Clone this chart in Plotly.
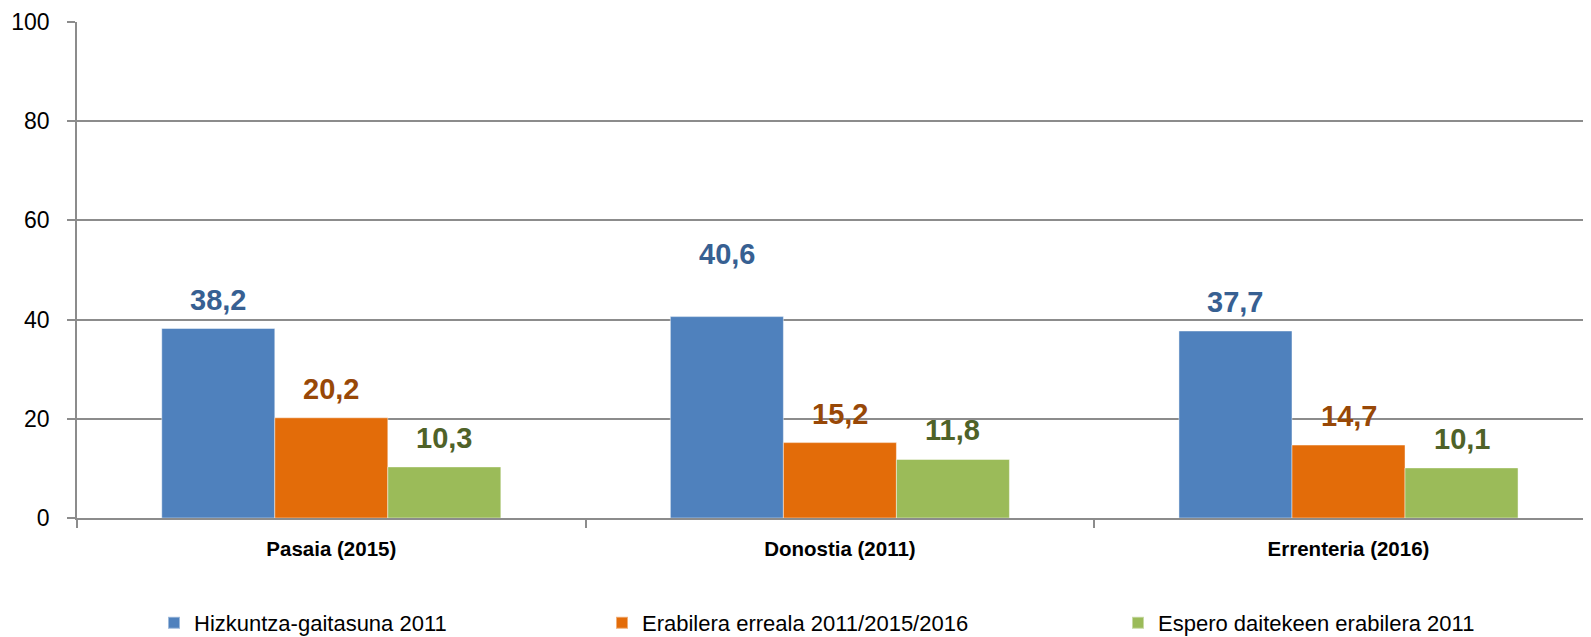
import plotly.graph_objects as go

categories = ["Pasaia (2015)", "Donostia (2011)", "Errenteria (2016)"]
series_names = ["Hizkuntza-gaitasuna 2011", "Erabilera erreala 2011/2015/2016", "Espero daitekeen erabilera 2011"]
gaitasuna = [38.2, 40.6, 37.7]
erabilera = [20.2, 15.2, 14.7]
espero = [10.3, 11.8, 10.1]
y_ticks = [0, 20, 40, 60, 80, 100]

series_values = [gaitasuna, erabilera, espero]
bar_colors = ["#4F81BD", "#E36C09", "#9BBB59"]
label_colors = ["#376092", "#984807", "#4F6228"]

PAGE_W, PAGE_H = 1591, 637
OFF = 8  # page body margin
W, H = PAGE_W - OFF, PAGE_H - OFF
legend_x_page = [154, 602, 1118]
legend_y_page = 623
BARGAP = 1 / 3
LABEL_LIFT = 29
EXTRA_LIFT = {(0, 1): 34}  # Donostia blue label sits higher

FONT = "Liberation Sans"
GRID = "#8C8C8C"

fig = go.Figure()
for k, (name, vals) in enumerate(zip(series_names, series_values)):
    fig.add_trace(go.Bar(
        x=categories, y=vals, name=name,
        marker=dict(color=bar_colors[k], line=dict(color="rgba(255,255,255,0.45)", width=1)),
        legend="legend" if k == 0 else f"legend{k + 1}",
        hoverinfo="skip",
    ))

n = len(series_values)
bw = (1 - BARGAP) / n
for k, vals in enumerate(series_values):
    for i, v in enumerate(vals):
        xpos = i + (k - (n - 1) / 2) * bw
        fig.add_annotation(
            x=xpos, y=v, xref="x", yref="y",
            text=f"{v:.1f}".replace(".", ","),
            showarrow=False, yanchor="middle", xanchor="center",
            yshift=LABEL_LIFT + EXTRA_LIFT.get((k, i), 0),
            font=dict(family=FONT, size=29, color=label_colors[k], weight="bold"),
        )

legend_common = dict(
    orientation="h", xref="container", yref="container",
    yanchor="middle", xanchor="left", y=1 - (legend_y_page - OFF) / H,
    font=dict(family=FONT, size=22, color="#000000"),
    bgcolor="rgba(0,0,0,0)", borderwidth=0, itemsizing="constant",
)
layout_legends = {}
for k in range(n):
    key = "legend" if k == 0 else f"legend{k + 1}"
    layout_legends[key] = dict(legend_common, x=(legend_x_page[k] - OFF) / W)

plot_left = 76.7 - OFF
plot_top = 22.3 - OFF
plot_bottom = 517.7 - OFF
cat_px = 508.7
x_end = -0.5 + (W - plot_left) / cat_px

fig.update_layout(
    width=W, height=H,
    margin=dict(l=plot_left, r=0, t=plot_top, b=H - plot_bottom, pad=0, autoexpand=False),
    paper_bgcolor="white", plot_bgcolor="white",
    barmode="group", bargap=BARGAP, bargroupgap=0,
    showlegend=True,
    **layout_legends,
)
fig.update_xaxes(
    type="category", range=[-0.5, x_end],
    showline=True, linecolor=GRID, linewidth=1.5,
    ticks="outside", tickson="boundaries", ticklen=8, tickcolor=GRID, tickwidth=1.5,
    showgrid=False,
    tickfont=dict(family=FONT, size=20.5, color="#000000", weight="bold"),
    ticklabelstandoff=12,
)
fig.update_yaxes(
    range=[0, 100], tickvals=y_ticks,
    showgrid=True, gridcolor=GRID, gridwidth=1.5,
    showline=True, linecolor=GRID, linewidth=1.5,
    ticks="outside", ticklen=8, tickcolor=GRID, tickwidth=1.5,
    tickfont=dict(family=FONT, size=23, color="#000000"),
    ticklabelstandoff=13,
    zeroline=False,
)

fig.write_html("out.html")
